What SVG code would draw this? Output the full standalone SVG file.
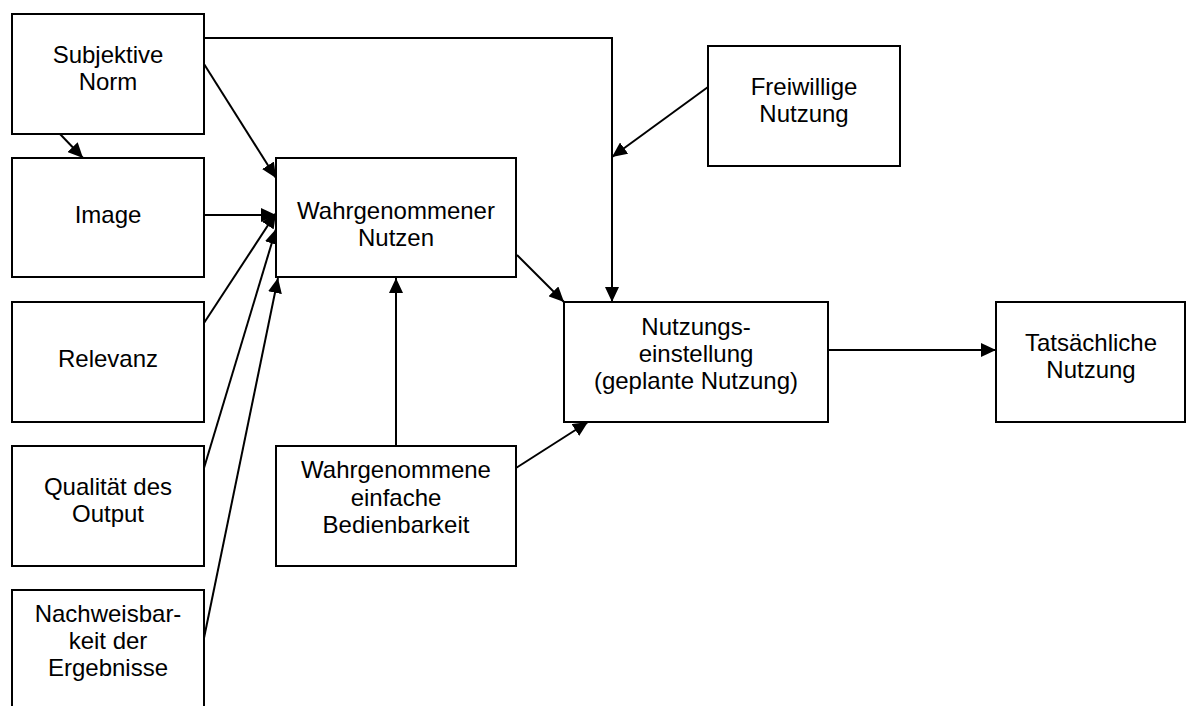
<svg xmlns="http://www.w3.org/2000/svg" width="1187" height="706" viewBox="0 0 1187 706">
<style>
.box{fill:#fff;stroke:#000;stroke-width:2}
.lbl{font-family:"Liberation Sans",Arial,sans-serif;font-size:24px;fill:#000;text-anchor:middle}
.con{fill:none;stroke:#000;stroke-width:2;marker-end:url(#ah)}
</style>
<defs>
<marker id="ah" markerUnits="userSpaceOnUse" markerWidth="16" markerHeight="14" refX="15" refY="7" orient="auto">
<path d="M0,0 L15,7 L0,14 z" fill="#000"/>
</marker>
</defs>
<rect width="1187" height="706" fill="#fff"/>
<g id="connectors">
<polyline class="con" points="204,38 612,38 612,302"/>
<line class="con" x1="708" y1="87" x2="612" y2="157"/>
<line class="con" x1="204" y1="64" x2="276" y2="178"/>
<line class="con" x1="60" y1="134" x2="83" y2="158"/>
<line class="con" x1="204" y1="215" x2="276" y2="215"/>
<line class="con" x1="204" y1="323" x2="276" y2="213"/>
<line class="con" x1="204" y1="468" x2="276" y2="229"/>
<line class="con" x1="204" y1="638" x2="278" y2="278"/>
<line class="con" x1="517" y1="255" x2="564" y2="302"/>
<line class="con" x1="396" y1="446" x2="396" y2="278"/>
<line class="con" x1="516" y1="468" x2="588" y2="422"/>
<line class="con" x1="828" y1="350" x2="996" y2="350"/>
</g>
<g id="subjektive-norm">
<rect class="box" x="12" y="14" width="192" height="120"/>
<text class="lbl" x="108" y="63">Subjektive</text>
<text class="lbl" x="108" y="90">Norm</text>
</g>
<g id="image">
<rect class="box" x="12" y="158" width="192" height="119"/>
<text class="lbl" x="108" y="223">Image</text>
</g>
<g id="relevanz">
<rect class="box" x="12" y="302" width="192" height="120"/>
<text class="lbl" x="108" y="367">Relevanz</text>
</g>
<g id="qualitaet">
<rect class="box" x="12" y="446" width="192" height="120"/>
<text class="lbl" x="108" y="495">Qualität des</text>
<text class="lbl" x="108" y="522">Output</text>
</g>
<g id="nachweisbarkeit">
<rect class="box" x="12" y="590" width="192" height="125"/>
<text class="lbl" x="108" y="622">Nachweisbar-</text>
<text class="lbl" x="108" y="649">keit der</text>
<text class="lbl" x="108" y="676">Ergebnisse</text>
</g>
<g id="wahrgenommener-nutzen">
<rect class="box" x="276" y="158" width="240" height="119"/>
<text class="lbl" x="396" y="219">Wahrgenommener</text>
<text class="lbl" x="396" y="246">Nutzen</text>
</g>
<g id="bedienbarkeit">
<rect class="box" x="276" y="446" width="240" height="120"/>
<text class="lbl" x="396" y="478">Wahrgenommene</text>
<text class="lbl" x="396" y="506">einfache</text>
<text class="lbl" x="396" y="533">Bedienbarkeit</text>
</g>
<g id="nutzungseinstellung">
<rect class="box" x="564" y="302" width="264" height="120"/>
<text class="lbl" x="696" y="335">Nutzungs-</text>
<text class="lbl" x="696" y="362">einstellung</text>
<text class="lbl" x="696" y="389">(geplante Nutzung)</text>
</g>
<g id="freiwillige-nutzung">
<rect class="box" x="708" y="46" width="192" height="120"/>
<text class="lbl" x="804" y="95">Freiwillige</text>
<text class="lbl" x="804" y="122">Nutzung</text>
</g>
<g id="tatsaechliche-nutzung">
<rect class="box" x="996" y="302" width="189" height="120"/>
<text class="lbl" x="1091" y="351">Tatsächliche</text>
<text class="lbl" x="1091" y="378">Nutzung</text>
</g>
</svg>
